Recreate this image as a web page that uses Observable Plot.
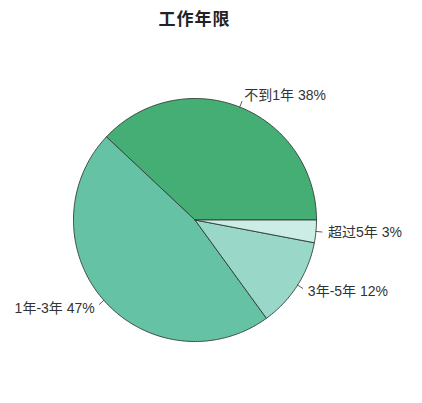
<!DOCTYPE html>
<html>
<head>
<meta charset="utf-8">
<script src="https://cdn.jsdelivr.net/npm/d3@7"></script>
<script src="https://cdn.jsdelivr.net/npm/@observablehq/plot@0.6"></script>
<style>
  html, body { margin: 0; padding: 0; background: #fff; }
  #title { height: 36px; width: 389px; text-align: center; line-height: 36px; letter-spacing: 1px;
           font-family: "Noto Sans CJK SC", sans-serif; font-weight: bold; font-size: 17px; color: #222; }
</style>
</head>
<body>
<div id="title">工作年限</div>
<div id="chart"></div>
<script>
const categories = ["不到1年", "1年-3年", "3年-5年", "超过5年"];
const percents = [38, 47, 12, 3];
const colors = ["#45ae74", "#66c2a4", "#99d8c9", "#ccece6"];

const W = 422, H = 367;
const cx = 194.5, cy = 183.5, R = 121.5;

// angles (counterclockwise from 3 o'clock, like R's pie)
const total = d3.sum(percents);
let acc = 0;
const slices = categories.map((c, i) => {
  const a0 = acc / total * 2 * Math.PI;
  acc += percents[i];
  const a1 = acc / total * 2 * Math.PI;
  return {cat: c, pct: percents[i], color: colors[i], a0, a1, mid: (a0 + a1) / 2};
});

// polygon vertices for each slice, in unit-radius data coordinates
const polyPts = [];
for (const s of slices) {
  polyPts.push({cat: s.cat, x: 0, y: 0});
  const n = Math.max(4, Math.ceil((s.a1 - s.a0) / (Math.PI / 180)));
  for (let k = 0; k <= n; k++) {
    const a = s.a0 + (s.a1 - s.a0) * k / n;
    polyPts.push({cat: s.cat, x: Math.cos(a), y: Math.sin(a)});
  }
  polyPts.push({cat: s.cat, x: 0, y: 0});
}

const ticks = slices.flatMap(s => [
  {cat: s.cat, x: Math.cos(s.mid), y: Math.sin(s.mid)},
  {cat: s.cat, x: 1.05 * Math.cos(s.mid), y: 1.05 * Math.sin(s.mid)}
]);
const labels = slices.map(s => ({
  text: `${s.cat} ${s.pct}%`,
  x: 1.1 * Math.cos(s.mid), y: 1.1 * Math.sin(s.mid),
  anchor: Math.cos(s.mid) > 0 ? "start" : "end"
}));

const xDom = [-cx / R, (W - cx) / R];
const yDom = [-(H - cy) / R, cy / R];
const labelFont = "'Liberation Sans', 'Noto Sans CJK SC', sans-serif";

const plot = Plot.plot({
  width: W, height: H,
  margin: 0,
  x: {domain: xDom, axis: null},
  y: {domain: yDom, axis: null},
  color: {domain: categories, range: colors},
  style: {background: "#fff"},
  marks: [
    Plot.line(polyPts, {x: "x", y: "y", z: "cat", fill: "cat", stroke: "#2f3f36", strokeWidth: 0.9, curve: "linear"}),
    Plot.line(ticks, {x: "x", y: "y", z: "cat", stroke: "#333", strokeWidth: 0.8}),
    Plot.text(labels.filter(d => d.anchor === "start"), {x: "x", y: "y", text: "text", textAnchor: "start",
      fontSize: 14, fill: "#333", fontFamily: labelFont}),
    Plot.text(labels.filter(d => d.anchor === "end"), {x: "x", y: "y", text: "text", textAnchor: "end",
      fontSize: 14, fill: "#333", fontFamily: labelFont})
  ]
});
document.getElementById("chart").appendChild(plot);
</script>
</body>
</html>
